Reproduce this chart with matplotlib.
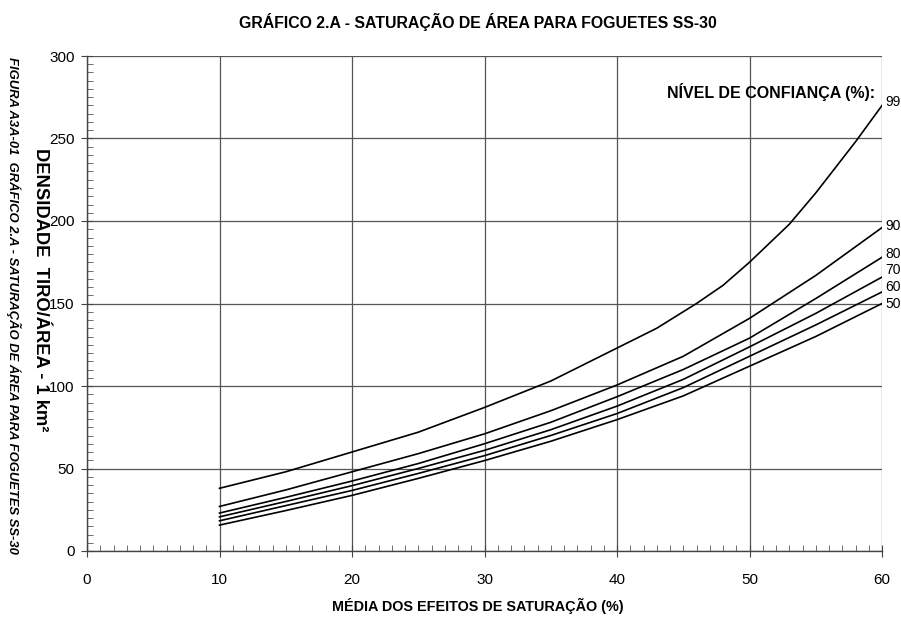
import matplotlib
matplotlib.use("Agg")
import matplotlib.pyplot as plt
from matplotlib.ticker import MultipleLocator

# ---- data ----
x_common = [10, 15, 20, 25, 30, 35, 40, 45, 50, 55, 60]
x_99 = [10, 15, 20, 25, 30, 35, 40, 43, 46, 48, 50, 53, 55, 58, 60]
y_99 = [38, 48, 60, 72, 87, 103, 123, 135, 150, 161, 175, 198, 217, 248, 270]
y_90 = [27, 37, 48, 59, 71, 85, 100.6, 118, 141, 167, 196]
y_80 = [23, 32.5, 42.4, 53, 65, 78, 93.5, 110, 129, 153, 178]
y_70 = [20.7, 30, 39.6, 50, 61, 73.5, 87.8, 104, 123.7, 144, 166]
y_60 = [18.3, 27.5, 36.7, 47, 57.8, 70, 83.3, 99, 118, 137, 157]
y_50 = [15.7, 24.5, 33.7, 44, 54.8, 66.5, 79.6, 94, 112, 130, 150]
curve_labels = ["99", "90", "80", "70", "60", "50"]
label_y = [272, 197, 180, 170, 160, 150]
x_ticks = [0, 10, 20, 30, 40, 50, 60]
y_ticks = [0, 50, 100, 150, 200, 250, 300]

title = "GRÁFICO 2.A - SATURAÇÃO DE ÁREA PARA FOGUETES SS-30"
xlabel = "MÉDIA DOS EFEITOS DE SATURAÇÃO (%)"
ylabel = "DENSIDADE  TIRO/ÁREA - 1 km²"
side_text = "FIGURA A3A-01  GRÁFICO 2.A - SATURAÇÃO DE ÁREA PARA FOGUETES SS-30"
legend_title = "NÍVEL DE CONFIANÇA (%):"

fam = ["Liberation Sans", "DejaVu Sans"]

fig = plt.figure(figsize=(9.01, 6.17), dpi=100)
ax = fig.add_axes([87/901, 1-551/617, (882-87)/901, (551-56)/617])

ax.set_xlim(0, 60)
ax.set_ylim(0, 300)

ax.set_xticks(x_ticks)
ax.set_yticks(y_ticks)
ax.xaxis.set_minor_locator(MultipleLocator(1))
ax.yaxis.set_minor_locator(MultipleLocator(5))
ax.tick_params(axis="both", which="major", direction="inout", length=8, width=0.8,
               color="#444444", labelsize=11, pad=5)
ax.tick_params(axis="both", which="minor", direction="in", length=4, width=0.6, color="#555555")
ax.tick_params(axis="x", pad=12)
for lab in ax.get_xticklabels() + ax.get_yticklabels():
    lab.set_family(fam)

ax.grid(True, which="major", color="#555555", linewidth=0.9)
for s in ["top", "right"]:
    ax.spines[s].set_visible(False)
for s in ["left", "bottom"]:
    ax.spines[s].set_color("#444444")
    ax.spines[s].set_linewidth(1.0)

ax.plot(x_99, y_99, color="black", lw=1.2)
for ys in [y_90, y_80, y_70, y_60, y_50]:
    ax.plot(x_common, ys, color="black", lw=1.2)

for lab, ly in zip(curve_labels, label_y):
    ax.text(60.25, ly, lab, fontsize=10, family=fam, va="center", ha="left", clip_on=False)

ax.text(59.5, 278, legend_title, fontsize=11.5, fontweight="bold", family=fam,
        ha="right", va="center")

fig.text(478/901, 1-22/617, title, fontsize=11.4, fontweight="bold", family=fam,
         ha="center", va="center")
fig.text(478/901, 1-606/617, xlabel, fontsize=10.4, fontweight="bold", family=fam,
         ha="center", va="center")
fig.text(40/901, 1-290/617, ylabel, fontsize=13.2, fontweight="bold", family=fam,
         rotation=-90, ha="center", va="center")
fig.text(14/901, 1-305/617, side_text, fontsize=9.4, fontweight="bold", style="italic",
         family=fam, rotation=-90, ha="center", va="center")

fig.savefig("out.png", dpi=100, facecolor="white")
